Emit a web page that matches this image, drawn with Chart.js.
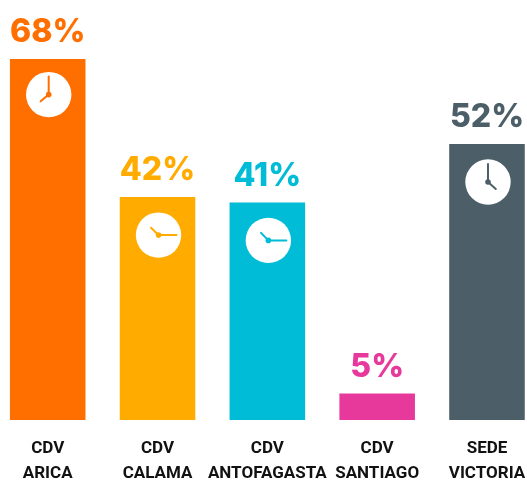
<!DOCTYPE html>
<html>
<head>
<meta charset="utf-8">
<script src="https://cdn.jsdelivr.net/npm/chart.js@4"></script>
<style>
html,body{margin:0;padding:0;background:#fff;overflow:hidden;width:527px;height:481px}
#w{position:absolute;left:-20px;top:0;width:570px;height:481px}
</style>
</head>
<body>
<div id="w"><canvas id="c"></canvas></div>
<script>
const categories = [["CDV","ARICA"],["CDV","CALAMA"],["CDV","ANTOFAGASTA"],["CDV","SANTIAGO"],["SEDE","VICTORIA"]];
const values = [68,42,41,5,52];
const colors = ["#FF6F00","#FFAB00","#00BCD6","#E6399B","#4C5F69"];
const clockMinuteDeg = [0,90,90,null,0];
const clockHourDeg = [230,-46,-44,null,132];

const overlay = {
  id:'overlay',
  afterDatasetsDraw(chart){
    const ctx = chart.ctx;
    const els = chart.getDatasetMeta(0).data;
    els.forEach((el,i)=>{
      ctx.save();
      ctx.fillStyle = colors[i];
      ctx.font = '800 32px Inter, sans-serif';
      ctx.textAlign='center';
      ctx.textBaseline='middle';
      ctx.fillText(values[i]+'%', el.x, el.y-26.5);
      if(clockMinuteDeg[i]!==null){
        const cx=el.x+1, cy=el.y+(i===0?35.5:38), r=22.7;
        ctx.fillStyle='#fff';
        ctx.beginPath();ctx.arc(cx,cy,r,0,Math.PI*2);ctx.fill();
        ctx.strokeStyle=colors[i];ctx.fillStyle=colors[i];ctx.lineCap='round';
        const hand=(deg,len,w)=>{
          const a=deg*Math.PI/180;
          ctx.lineWidth=w;ctx.beginPath();ctx.moveTo(cx,cy);
          ctx.lineTo(cx+Math.sin(a)*len,cy-Math.cos(a)*len);ctx.stroke();
        };
        hand(clockMinuteDeg[i],18,2);
        hand(clockHourDeg[i],10.5,2);
        ctx.beginPath();ctx.arc(cx,cy,2.8,0,Math.PI*2);ctx.fill();
      }
      ctx.restore();
    });
  }
};

new Chart(document.getElementById('c'),{
  type:'bar',
  data:{labels:categories,datasets:[{data:values,backgroundColor:colors,borderWidth:0,categoryPercentage:1,barPercentage:0.688}]},
  options:{
    responsive:true,maintainAspectRatio:false,animation:false,
    layout:{padding:{left:12.8,right:8.1,top:6,bottom:0}},
    plugins:{legend:{display:false},tooltip:{enabled:false}},
    scales:{
      x:{
        grid:{display:false},border:{display:false},
        afterFit(s){s.height=61;},
        ticks:{color:'#111111',autoSkip:false,maxRotation:0,minRotation:0,padding:8,
          font:{family:'Roboto',weight:'700',size:17,lineHeight:1.47}}
      },
      y:{display:false,min:0,max:78}
    }
  },
  plugins:[overlay]
});
</script>
</body>
</html>
